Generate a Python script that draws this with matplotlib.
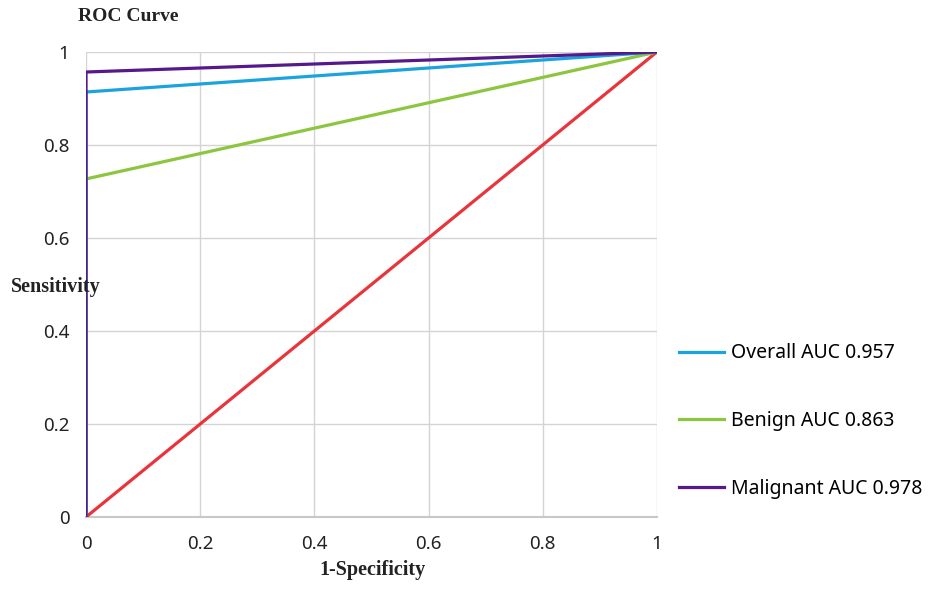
import numpy as np
import matplotlib
matplotlib.use("Agg")
import matplotlib.pyplot as plt

# ROC points (1-specificity, sensitivity)
fpr_overall = [0, 0, 1]
tpr_overall = [0, 0.914, 1]
fpr_benign = [0, 0, 1]
tpr_benign = [0, 0.727, 1]
fpr_malig = [0, 0, 1]
tpr_malig = [0, 0.957, 1]
diag_x = [0, 1]
diag_y = [0, 1]

labels = ['Overall AUC 0.957', 'Benign AUC 0.863', 'Malignant AUC 0.978']
ticks = [0, 0.2, 0.4, 0.6, 0.8, 1]
tick_labels = ['0', '0.2', '0.4', '0.6', '0.8', '1']

c_overall = '#1ba3e0'
c_benign = '#8cc63e'
c_malig = '#55198c'
c_diag = '#e8353b'

fig = plt.figure(figsize=(9.35, 5.89), dpi=100)
ax = fig.add_axes([0.092, 0.1222, 0.6105, 0.7895])

lw = 2.3
ax.plot(diag_x, diag_y, color=c_diag, linewidth=lw, zorder=3)
l1, = ax.plot(fpr_benign, tpr_benign, color=c_benign, linewidth=lw, zorder=4)
l2, = ax.plot(fpr_overall, tpr_overall, color=c_overall, linewidth=lw, zorder=5)
l3, = ax.plot(fpr_malig, tpr_malig, color=c_malig, linewidth=lw, zorder=6)

ax.set_xlim(0, 1)
ax.set_ylim(0, 1)
ax.set_xticks(ticks)
ax.set_yticks(ticks)
ax.set_xticklabels(tick_labels, fontsize=13.5, family='Noto Sans', color='#222222')
ax.set_yticklabels(tick_labels, fontsize=13.5, family='Noto Sans', color='#222222')
ax.tick_params(axis='x', length=0, pad=13)
ax.tick_params(axis='y', length=0, pad=12)
ax.grid(True, color='#d4d4d4', linewidth=1.0)
ax.set_axisbelow(True)
for s in ax.spines.values():
    s.set_visible(False)
ax.spines['bottom'].set_visible(True)
ax.spines['bottom'].set_color('#c8c8c8')
ax.spines['bottom'].set_linewidth(1.5)

fig.text(0.137, 0.972, 'ROC Curve', ha='center', va='center',
         fontsize=14, fontweight='bold', family='Liberation Serif', color='#222222')
fig.text(0.06, 0.513, 'Sensitivity', ha='center', va='center',
         fontsize=14.5, fontweight='bold', family='Liberation Serif', color='#222222')
fig.text(0.398, 0.032, '1-Specificity', ha='center', va='center',
         fontsize=14.5, fontweight='bold', family='Liberation Serif', color='#222222')

fig.legend([l2, l1, l3], labels, loc='center left', bbox_to_anchor=(0.726, 0.285),
           frameon=False, handlelength=2.3, handletextpad=0.4, labelspacing=2.45,
           borderpad=0, borderaxespad=0,
           prop={'family': 'Noto Sans', 'size': 14})

fig.savefig('out.png', dpi=100)
